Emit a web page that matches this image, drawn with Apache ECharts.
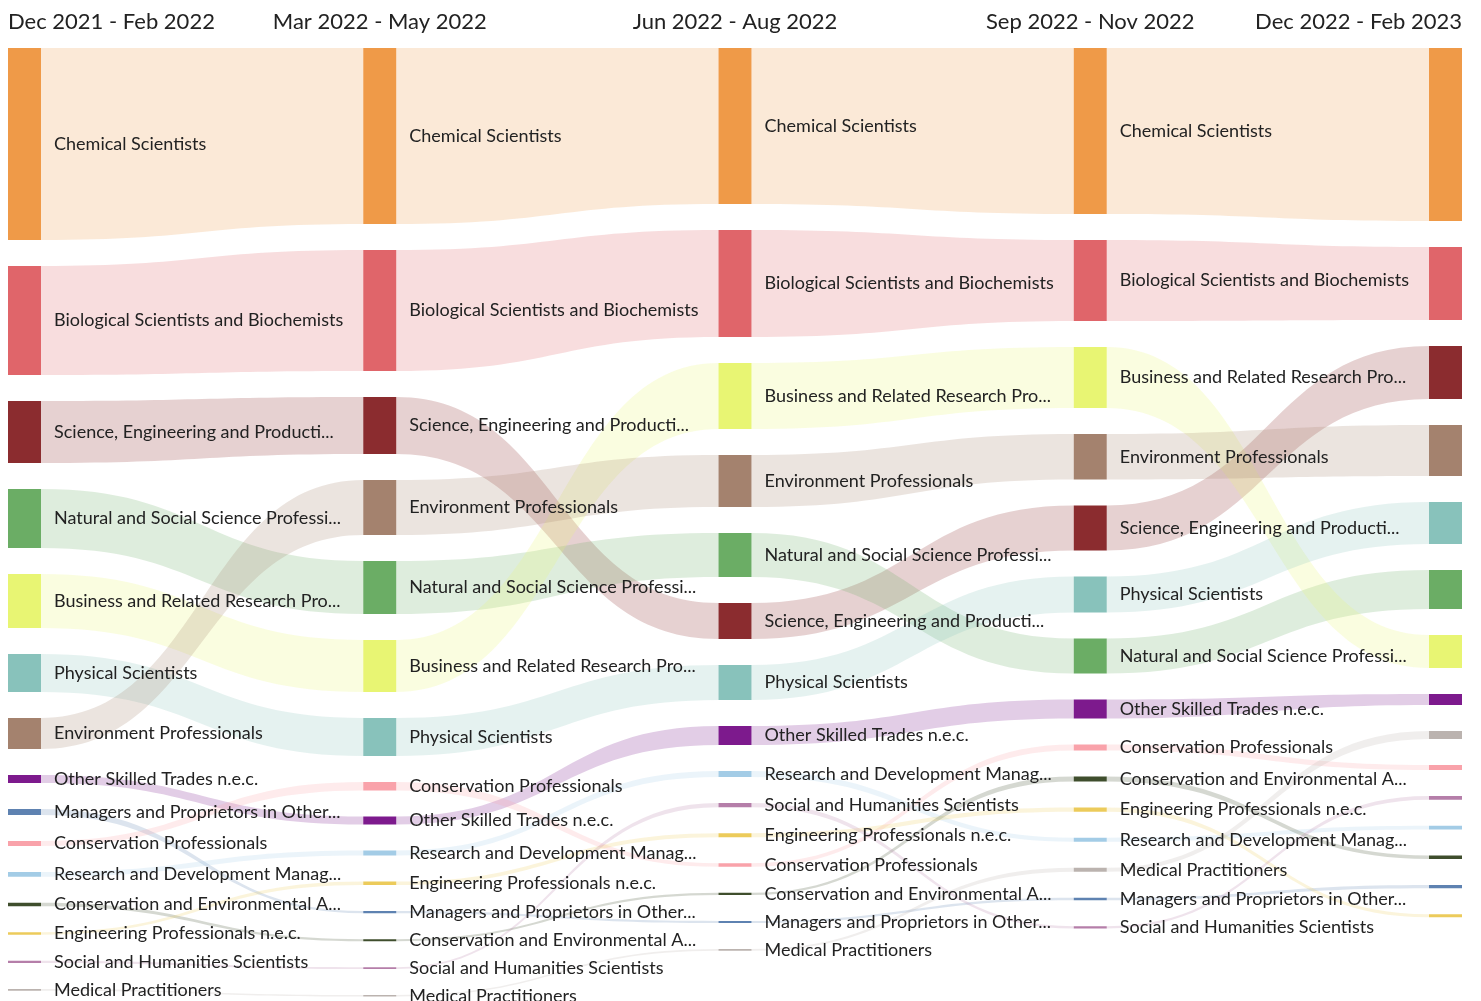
<!DOCTYPE html>
<html>
<head>
<meta charset="utf-8">
<title>Occupations ranking flow</title>
<script src="https://cdn.jsdelivr.net/npm/echarts@6/dist/echarts.min.js"></script>
<style>
  html, body { margin: 0; padding: 0; background: #fff; }
  #chart { width: 1481px; height: 1001px; }
</style>
</head>
<body>
<div id="chart"></div>
<script>
// periods (one column each)
const periods = [
  'Dec 2021 - Feb 2022',
  'Mar 2022 - May 2022',
  'Jun 2022 - Aug 2022',
  'Sep 2022 - Nov 2022',
  'Dec 2022 - Feb 2023'
];

const occupations = [
  'Chemical Scientists',
  'Biological Scientists and Biochemists',
  'Science, Engineering and Production Technicians n.e.c.',
  'Natural and Social Science Professionals n.e.c.',
  'Business and Related Research Professionals',
  'Physical Scientists',
  'Environment Professionals',
  'Other Skilled Trades n.e.c.',
  'Managers and Proprietors in Other Services n.e.c.',
  'Conservation Professionals',
  'Research and Development Managers',
  'Conservation and Environmental Associate Professionals',
  'Engineering Professionals n.e.c.',
  'Social and Humanities Scientists',
  'Medical Practitioners'
];

const occupationColors = [
  '#EF9A48', '#E0656A', '#8B2C2F', '#6BAD65', '#E8F573',
  '#88C2BB', '#A4826E', '#7D1A8D', '#5E82B1', '#F9A2AA',
  '#A3CCE6', '#3F4E2D', '#ECCB5B', '#B57EA9', '#BBB3AF'
];

// values per period, same order as occupations
const valuesDec21Feb22 = [192, 109, 62, 59, 54, 38, 31, 8, 6, 5, 4.8, 3.4, 2.6, 2.1, 1.8];
const valuesMar22May22 = [176, 121, 57, 53, 52, 38, 55, 8, 2.1, 8.5, 5, 2, 3.6, 1.8, 1.5];
const valuesJun22Aug22 = [156, 107, 36, 44, 66, 35, 52, 19, 2.0, 3.6, 6, 2.2, 4.0, 4.2, 1.8];
const valuesSep22Nov22 = [166, 81, 45, 35, 61, 36, 45.5, 19, 2.4, 6, 4.1, 5, 4.2, 2.3, 4];
const valuesDec22Feb23 = [173, 73, 53, 39, 33, 42, 51, 11, 3.3, 5, 3.6, 3.5, 3, 3.8, 8];

const periodValues = [valuesDec21Feb22, valuesMar22May22, valuesJun22Aug22, valuesSep22Nov22, valuesDec22Feb23];

const NODE_W = 33;
const GAP = 26;
const LINK_OPACITY = 0.22;

// rank occupations inside each period, stack offsets in value units
const positions = periodValues.map(function (vals) {
  const order = vals.map(function (v, i) { return i; })
    .sort(function (a, b) { return vals[b] - vals[a]; });
  const pos = [];
  let offset = 0;
  order.forEach(function (occ, rank) {
    pos[occ] = { offset: offset, rank: rank, value: vals[occ] };
    offset += vals[occ];
  });
  return pos;
});

const nodeData = [];
const linkData = [];
positions.forEach(function (pos, p) {
  occupations.forEach(function (name, occ) {
    nodeData.push([p, pos[occ].offset, pos[occ].value, pos[occ].rank, occ]);
    if (p < positions.length - 1) {
      const nxt = positions[p + 1][occ];
      linkData.push([p, pos[occ].offset, pos[occ].value, pos[occ].rank,
        nxt.offset, nxt.value, nxt.rank, occ]);
    }
  });
});

function renderLink(params, api) {
  const p = api.value(0);
  const a = api.coord([p, api.value(1)]);
  const b = api.coord([p + 1, api.value(4)]);
  const ha = api.size([0, api.value(2)])[1];
  const hb = api.size([0, api.value(5)])[1];
  const x0 = a[0] + NODE_W / 2;
  const x1 = b[0] - NODE_W / 2;
  const xm = (x0 + x1) / 2;
  const y0 = a[1] + api.value(3) * GAP;
  const y1 = b[1] + api.value(6) * GAP;
  const d = 'M' + x0 + ',' + y0 +
    'C' + xm + ',' + y0 + ' ' + xm + ',' + y1 + ' ' + x1 + ',' + y1 +
    'L' + x1 + ',' + (y1 + hb) +
    'C' + xm + ',' + (y1 + hb) + ' ' + xm + ',' + (y0 + ha) + ' ' + x0 + ',' + (y0 + ha) + 'Z';
  return {
    type: 'path',
    shape: { pathData: d },
    style: { fill: occupationColors[api.value(7)], opacity: LINK_OPACITY }
  };
}

function renderNode(params, api) {
  const p = api.value(0);
  const occ = api.value(4);
  const top = api.coord([p, api.value(1)]);
  const h = api.size([0, api.value(2)])[1];
  const y = top[1] + api.value(3) * GAP;
  const children = [{
    type: 'rect',
    shape: { x: top[0] - NODE_W / 2, y: y, width: NODE_W, height: h },
    style: { fill: occupationColors[occ] }
  }];
  if (p < periods.length - 1) {
    children.push({
      type: 'text',
      style: {
        text: occupations[occ],
        x: top[0] + NODE_W / 2 + 13,
        y: y + h / 2,
        align: 'left',
        verticalAlign: 'middle',
        fill: '#222',
        font: '18px Lato',
        width: 291,
        overflow: 'truncate',
        ellipsis: '...'
      }
    });
  }
  return { type: 'group', children: children };
}

function renderHeader(params, api) {
  const i = api.value(0);
  const pt = api.coord([i, 0]);
  let x = pt[0];
  let align = 'center';
  if (i === 0) { x -= NODE_W / 2; align = 'left'; }
  if (i === periods.length - 1) { x += NODE_W / 2; align = 'right'; }
  return {
    type: 'text',
    style: {
      text: periods[i],
      x: x,
      y: pt[1] - 26,
      align: align,
      verticalAlign: 'middle',
      fill: '#222',
      font: '22px Lato'
    }
  };
}

const chart = echarts.init(document.getElementById('chart'));
chart.setOption({
  animation: false,
  grid: { left: 24.5, right: 35.5, top: 48, bottom: 0 },
  xAxis: { type: 'value', min: 0, max: periods.length - 1, show: false },
  yAxis: { type: 'value', min: 0, max: 953, inverse: true, show: false },
  series: [
    {
      type: 'custom',
      name: 'links',
      z: 1,
      clip: false,
      renderItem: renderLink,
      encode: { x: 0, y: 1 },
      data: linkData
    },
    {
      type: 'custom',
      name: 'nodes',
      z: 2,
      clip: false,
      renderItem: renderNode,
      encode: { x: 0, y: 1 },
      data: nodeData
    },
    {
      type: 'custom',
      name: 'periods',
      z: 3,
      clip: false,
      renderItem: renderHeader,
      encode: { x: 0 },
      data: periods.map(function (p, i) { return [i]; })
    }
  ]
});
</script>
</body>
</html>
